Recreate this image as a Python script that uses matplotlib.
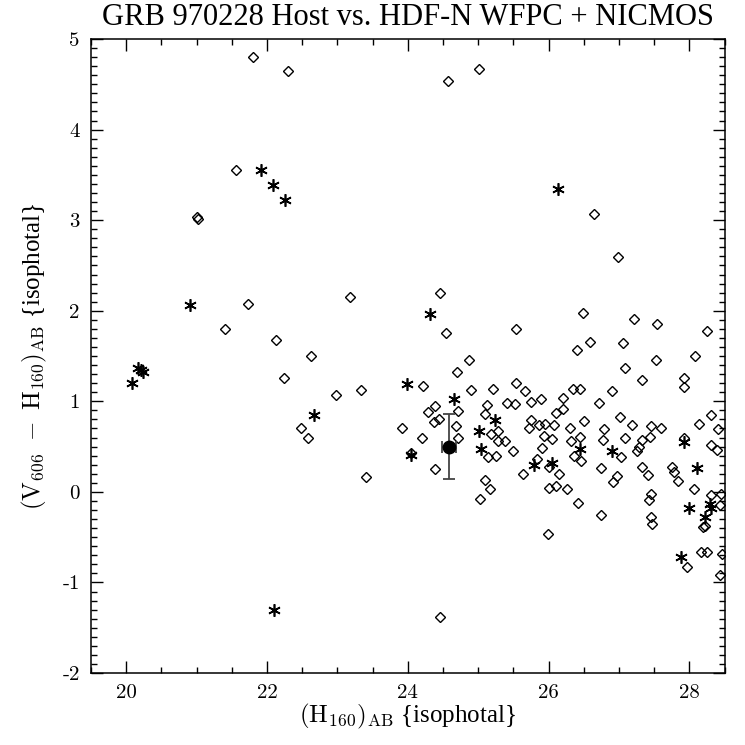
import numpy as np
import matplotlib
matplotlib.use('Agg')
import matplotlib.pyplot as plt
from matplotlib.ticker import MultipleLocator

# HDF-N field galaxies (open diamonds)
field_h = [21.80, 22.30, 21.56, 21.00, 21.02, 21.73, 23.18, 21.41, 22.13, 24.57,
           25.01, 26.65, 26.98, 24.46, 24.54, 25.54, 26.49, 27.22, 27.54, 28.25,
           26.59, 27.06, 26.41, 22.62, 22.24, 22.98, 23.34, 22.49, 22.58, 23.92,
           23.41, 24.46, 24.05,
           24.87, 24.70, 24.22, 24.90, 25.21, 24.38, 24.29, 24.71, 24.44, 24.37,
           25.13, 25.09, 24.69, 25.18, 25.28, 25.28, 25.38, 24.20, 24.72, 25.14,
           25.26, 24.38, 25.10, 25.17, 25.02,
           25.54, 25.67, 26.34, 26.45, 26.90, 25.41, 25.53, 25.75, 25.89, 26.20,
           26.20, 26.11, 26.72, 25.75, 25.87, 25.95, 26.07, 25.72, 26.51, 26.30,
           26.79, 25.93, 26.05, 26.44, 26.32, 26.78, 25.50, 25.90, 26.36, 26.46,
           25.84, 26.00, 26.74, 25.64, 26.15, 26.92, 26.97, 26.00, 26.10, 26.26,
           26.42, 26.74, 25.99,
           27.52, 28.08, 27.09, 27.33, 27.92, 27.93, 27.02, 27.19, 27.45, 27.60,
           27.08, 27.33, 27.44, 27.92, 28.14, 28.30, 28.41, 28.30, 28.39, 27.29,
           27.26, 27.03, 27.32, 27.41, 27.75, 27.78, 27.84, 28.07, 27.46, 27.43,
           28.31, 28.45, 28.44, 28.19, 28.22, 27.46, 27.47, 28.16, 28.25, 28.47,
           27.97, 28.43]
field_vh = [4.80, 4.65, 3.55, 3.04, 3.01, 2.08, 2.15, 1.80, 1.68, 4.54,
            4.67, 3.07, 2.59, 2.20, 1.75, 1.80, 1.98, 1.91, 1.85, 1.78,
            1.65, 1.64, 1.57, 1.50, 1.26, 1.07, 1.13, 0.70, 0.60, 0.71,
            0.16, -1.38, 0.43,
            1.46, 1.32, 1.17, 1.12, 1.14, 0.95, 0.88, 0.89, 0.81, 0.77,
            0.96, 0.86, 0.73, 0.64, 0.67, 0.56, 0.56, 0.60, 0.60, 0.38,
            0.40, 0.25, 0.13, 0.03, -0.08,
            1.20, 1.11, 1.14, 1.14, 1.11, 0.98, 0.97, 0.99, 1.03, 1.04,
            0.91, 0.87, 0.98, 0.79, 0.74, 0.75, 0.74, 0.70, 0.78, 0.70,
            0.69, 0.62, 0.58, 0.61, 0.56, 0.57, 0.45, 0.49, 0.40, 0.34,
            0.36, 0.28, 0.26, 0.20, 0.20, 0.11, 0.17, 0.04, 0.06, 0.03,
            -0.12, -0.25, -0.47,
            1.46, 1.50, 1.37, 1.24, 1.26, 1.16, 0.83, 0.74, 0.73, 0.70,
            0.60, 0.57, 0.61, 0.60, 0.75, 0.85, 0.69, 0.52, 0.46, 0.50,
            0.45, 0.39, 0.28, 0.19, 0.28, 0.22, 0.12, 0.03, -0.02, -0.09,
            -0.03, -0.02, -0.15, -0.39, -0.38, -0.28, -0.36, -0.66, -0.66, -0.69,
            -0.83, -0.92]

# asterisks
star_h = [20.08, 20.17, 20.21, 20.24, 20.91, 21.91, 22.08, 22.25, 22.10, 22.67,
          23.99, 24.04, 24.31, 24.66, 25.01, 25.24, 25.04, 25.79, 26.05, 26.45,
          26.90, 26.14, 27.92, 28.11, 28.00, 28.29, 28.30, 28.22, 27.88]
star_vh = [1.20, 1.37, 1.35, 1.32, 2.06, 3.55, 3.39, 3.22, -1.30, 0.85,
           1.19, 0.41, 1.96, 1.03, 0.67, 0.79, 0.47, 0.30, 0.32, 0.47,
           0.45, 3.34, 0.55, 0.26, -0.18, -0.13, -0.18, -0.28, -0.72]

# GRB 970228 host
host_h = 24.58
host_vh = 0.50
host_herr = 0.10
host_vherr = 0.36

plt.rcParams['font.family'] = ['Liberation Serif', 'DejaVu Serif']
plt.rcParams['mathtext.fontset'] = 'cm'
plt.rcParams['axes.unicode_minus'] = False

fig = plt.figure(figsize=(7.45, 7.45), dpi=100)
ax = fig.add_axes([0.1221, 0.0966, 0.8505, 0.851])

ax.plot(field_h, field_vh, linestyle='none', marker='D', ms=5.5,
        mfc='none', mec='black', mew=1.0)
ax.plot(star_h, star_vh, linestyle='none', marker=(6, 2, 0), ms=9,
        mec='black', mew=1.2)
ax.errorbar(host_h, host_vh, xerr=host_herr, yerr=host_vherr, fmt='o',
            ms=9, color='black', ecolor='#444444', elinewidth=1.3,
            capsize=4, capthick=1.3)

ax.set_xlim(19.5, 28.5)
ax.set_ylim(-2, 5)
ax.xaxis.set_major_locator(MultipleLocator(2))
ax.xaxis.set_minor_locator(MultipleLocator(0.5))
ax.yaxis.set_major_locator(MultipleLocator(1))
ax.yaxis.set_minor_locator(MultipleLocator(0.1))
ax.tick_params(which='both', direction='in', top=True, right=True, width=1.0)
ax.tick_params(which='major', length=8.5, pad=8)
ax.tick_params(which='minor', length=4.3)
for lab in ax.get_xticklabels() + ax.get_yticklabels():
    lab.set_fontfamily('cmr10')
    lab.set_fontsize(15)
for s in ax.spines.values():
    s.set_linewidth(1.1)

ax.set_title('GRB 970228 Host vs. HDF-N WFPC + NICMOS', fontsize=22, pad=10)
ax.set_xlabel(r'$(\mathrm{H}_{160})_{\mathrm{AB}}$ {isophotal}', fontsize=18,
              labelpad=0)
ax.set_ylabel(r'$(\mathrm{V}_{606}\ -\ \mathrm{H}_{160})_{\mathrm{AB}}$ {isophotal}',
              fontsize=18, labelpad=10)

plt.savefig('out.png', dpi=100)
